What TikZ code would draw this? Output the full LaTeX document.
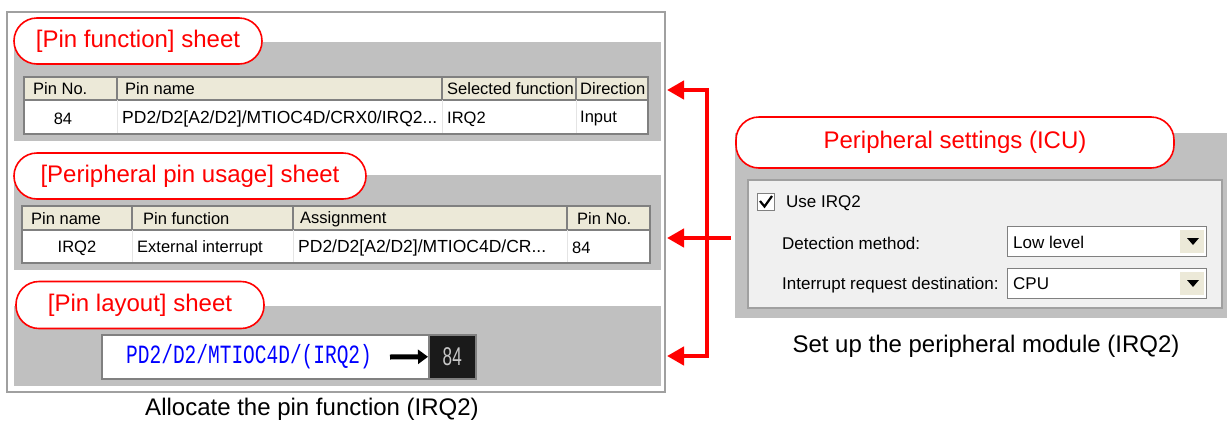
\documentclass[tikz,border=0pt]{standalone}
\usepackage{fontspec}
\setmainfont{Liberation Sans}
\newfontfamily\codefont{Liberation Mono}
\usetikzlibrary{arrows.meta}
\definecolor{panelgray}{HTML}{C0C0C0}
\definecolor{outerborder}{HTML}{A0A0A0}
\definecolor{hdrbeige}{HTML}{ECE9D8}
\definecolor{tblborder}{HTML}{808080}
\definecolor{innerlight}{HTML}{F0F0F0}
\definecolor{codeblue}{HTML}{0000FF}
\definecolor{darkbox}{HTML}{1A1A1A}
\definecolor{pinnum}{HTML}{C8C8C8}
\definecolor{faintline}{HTML}{E4E4E4}
\begin{document}
\begin{tikzpicture}[x=1pt,y=-1pt,
  panel/.style={fill=panelgray},
  sheetlabel/.style={draw=red, fill=white, line width=1.6pt, rounded corners=23pt,
    text=red, font=\fontsize{24}{28}\selectfont, inner sep=0pt},
  tbltext/.style={font=\fontsize{16.5}{19}\selectfont, inner sep=0pt, anchor=west, text=black},
  tblc/.style={font=\fontsize{16.5}{19}\selectfont, inner sep=0pt, text=black},
  uitext/.style={font=\fontsize{17}{20}\selectfont, inner sep=0pt, anchor=west, text=black},
  caption/.style={font=\fontsize{24}{28}\selectfont, inner sep=0pt, text=black},
  tblframe/.style={draw=tblborder, line width=1.8pt},
  hdrsep/.style={draw=tblborder, line width=1.2pt},
  rowsep/.style={draw=faintline, line width=1pt},
  redline/.style={draw=red, line width=4.5pt},
  redtip/.style={-{Triangle[length=17pt,width=18pt]}},
  combo/.style={draw=tblborder, fill=white, line width=1.2pt},
  dropbtn/.style={fill=hdrbeige, draw=white, line width=0.8pt}
]
\useasboundingbox (0,0) rectangle (1227,421);

% ---------------- left outer frame
\draw[outerborder, line width=1.5pt, fill=white] (7,12) rectangle (665,392);

% ---------------- section 1: pin function sheet
\fill[panelgray] (14,42) rectangle (661,141);
\fill[white] (25,78) rectangle (647,133);
\fill[hdrbeige] (25,78) rectangle (647,100);
\draw[hdrsep] (25,100) -- (647,100);
\foreach \xx in {117,442,576} {
  \draw[hdrsep] (\xx,78) -- (\xx,100);
  \draw[rowsep] (\xx,100) -- (\xx,133);
}
\draw[tblframe] (24,77) rectangle (648,134);
\node[tbltext] (h11) at (33,89) {Pin No.};
\node[tbltext] (h12) at (125,89) {Pin name};
\node[tbltext] (h13) at (447,89) {Selected function};
\node[tbltext] (h14) at (580,89) {Direction};
\node[tblc] (r11) at (63,119) {84};
\node[tbltext, font=\fontsize{17.5}{20}\selectfont] (r12) at (122,119) {PD2/D2[A2/D2]/MTIOC4D/CRX0/IRQ2...};
\node[tbltext] (r13) at (447,119) {IRQ2};
\node[tbltext] (r14) at (580,119) {Input};
\node[sheetlabel, minimum width=248pt, minimum height=46pt] (lab1) at (138,41) {[Pin function] sheet};

% ---------------- section 2: peripheral pin usage sheet
\fill[panelgray] (14,175) rectangle (661,270);
\fill[white] (23,207) rectangle (649,262);
\fill[hdrbeige] (23,207) rectangle (649,230);
\draw[hdrsep] (23,230) -- (649,230);
\foreach \xx in {132,293,567} {
  \draw[hdrsep] (\xx,207) -- (\xx,230);
  \draw[rowsep] (\xx,230) -- (\xx,262);
}
\draw[tblframe] (22,206) rectangle (650,263);
\node[tbltext] (h21) at (31,219) {Pin name};
\node[tbltext] (h22) at (143,219) {Pin function};
\node[tbltext] (h23) at (300,219) {Assignment};
\node[tbltext] (h24) at (577,219) {Pin No.};
\node[tblc] (r21) at (77,248) {IRQ2};
\node[tbltext] (r22) at (137,248) {External interrupt};
\node[tbltext, font=\fontsize{17.5}{20}\selectfont] (r23) at (298,248) {PD2/D2[A2/D2]/MTIOC4D/CR...};
\node[tbltext] (r24) at (572,248) {84};
\node[sheetlabel, minimum width=352pt, minimum height=46pt] (lab2) at (190,176) {[Peripheral pin usage] sheet};

% ---------------- section 3: pin layout sheet
\fill[panelgray] (14,306) rectangle (661,386);
\node[draw=tblborder, line width=1.5pt, fill=white, minimum width=327pt, minimum height=44pt,
  anchor=north west, inner sep=0pt] (pinbox) at (101,334) {};
\node[fill=darkbox, draw=tblborder, line width=1.5pt, minimum width=47pt, minimum height=44pt,
  anchor=north west, inner sep=0pt, text=pinnum, font=\fontsize{19}{22}\selectfont] (pinnum) at (428,334)
  {\scalebox{0.9}[1.35]{84}};
\node[inner sep=0pt, anchor=west, text=codeblue, font=\codefont\fontsize{19.5}{22}\selectfont] (pintext) at (126,357)
  {\scalebox{1}[1.35]{PD2/D2/MTIOC4D/(IRQ2)}};
\coordinate (barS) at (390,357);
\draw[line width=5pt, -{Triangle[length=10pt,width=14pt]}] (barS) -- (pinnum.west);
\node[sheetlabel, minimum width=248pt, minimum height=47pt] (lab3) at (140,305) {[Pin layout] sheet};

\node[caption] (capL) at (312,409) {Allocate the pin function (IRQ2)};

% ---------------- right: peripheral settings
\fill[panelgray] (735,133) rectangle (1227,318);
\draw[outerborder, line width=1.2pt, fill=innerlight] (748,180) rectangle (1222,308);
\node[sheetlabel, minimum width=438pt, minimum height=51pt] (lab4) at (955,142.5) {Peripheral settings (ICU)};

\node[draw=tblborder, line width=1.2pt, fill=white, minimum size=17pt, inner sep=0pt] (chk) at (766,202) {};
\draw[line width=2.2pt] (760,201) -- (764.5,206.5) -- (772,196);
\node[uitext] (use) at (786,203) {Use IRQ2};

\node[uitext] (det) at (782,243) {Detection method:};
\node[combo, minimum width=199pt, minimum height=30pt, anchor=north west, inner sep=0pt] (cb1) at (1007,226) {};
\node[uitext] (cb1t) at (1013,242) {Low level};
\node[dropbtn, minimum width=25pt, minimum height=24pt, anchor=east, inner sep=0pt] (btn1) at ([xshift=-2pt]cb1.east) {};
\fill (1187,238) -- (1199,238) -- (1193,245) -- cycle;

\node[uitext] (irq) at (782,285) {Interrupt request destination:};
\node[combo, minimum width=199pt, minimum height=30pt, anchor=north west, inner sep=0pt] (cb2) at (1007,268) {};
\node[uitext] (cb2t) at (1013,284) {CPU};
\node[dropbtn, minimum width=25pt, minimum height=24pt, anchor=east, inner sep=0pt] (btn2) at ([xshift=-2pt]cb2.east) {};
\fill (1187,280) -- (1199,280) -- (1193,287) -- cycle;

\node[caption] (capR) at (986,346) {Set up the peripheral module (IRQ2)};

% ---------------- red connectors
\coordinate (t1) at (667,90);
\coordinate (t2) at (667,238);
\coordinate (t3) at (667,356);
\coordinate (jtop) at (707,90);
\coordinate (jbot) at (707,356);
\coordinate (src) at (731,238);
\draw[redline, {Triangle[length=17pt,width=18pt]}-{Triangle[length=17pt,width=18pt]}]
  (t1) -- (jtop) -- (jbot) -- (t3);
\draw[redline, redtip] (src) -- (t2);
\end{tikzpicture}
\end{document}
